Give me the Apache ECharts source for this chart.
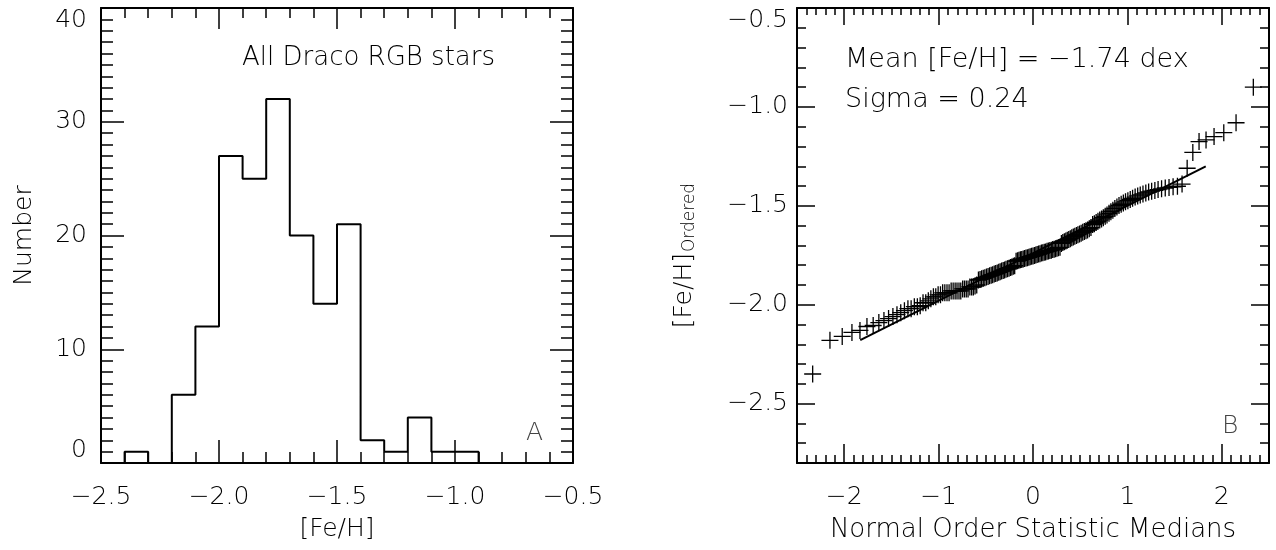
<!DOCTYPE html>
<html><head><meta charset="utf-8">
<script src="https://cdn.jsdelivr.net/npm/echarts@6/dist/echarts.min.js"></script>
<style>html,body{margin:0;padding:0;background:#fff}#c{width:1276px;height:550px}</style>
</head><body><div id="c"></div>
<script>
// ---------- Panel A: histogram ----------
const binLeft = [-2.4,-2.3,-2.2,-2.1,-2.0,-1.9,-1.8,-1.7,-1.6,-1.5,-1.4,-1.3,-1.2,-1.1,-1.0];
const binCounts = [1,0,6,12,27,25,32,20,14,21,2,1,4,1,1];
const binWidth = 0.1;
const histXTicks = [-2.5,-2.0,-1.5,-1.0,-0.5];
const histYTicks = [0,10,20,30,40];

// ---------- Panel B: normal probability plot ----------
const qqX = [
-2.334,-2.151,-2.021,-1.918,-1.833,-1.759,-1.693,-1.633,-1.579,-1.530,
-1.484,-1.441,-1.401,-1.362,-1.325,-1.291,-1.257,-1.225,-1.195,-1.165,
-1.136,-1.109,-1.082,-1.055,-1.030,-1.005,-0.980,-0.957,-0.934,-0.911,
-0.889,-0.867,-0.846,-0.825,-0.805,-0.784,-0.765,-0.745,-0.726,-0.707,
-0.688,-0.669,-0.650,-0.632,-0.614,-0.596,-0.578,-0.561,-0.544,-0.527,
-0.510,-0.493,-0.476,-0.460,-0.443,-0.427,-0.411,-0.395,-0.379,-0.363,
-0.348,-0.332,-0.316,-0.301,-0.286,-0.270,-0.254,-0.239,-0.224,-0.209,
-0.194,-0.179,-0.164,-0.149,-0.134,-0.119,-0.104,-0.089,-0.074,-0.059,
-0.044,-0.030,-0.015,0,
0.015,0.030,0.044,0.059,0.074,0.089,0.104,0.119,0.134,0.149,
0.164,0.179,0.194,0.209,0.224,0.239,0.254,0.270,0.286,0.301,
0.316,0.332,0.348,0.363,0.379,0.395,0.411,0.427,0.443,0.460,
0.476,0.493,0.510,0.527,0.544,0.561,0.578,0.596,0.614,0.632,
0.650,0.669,0.688,0.707,0.726,0.745,0.765,0.784,0.805,0.825,
0.846,0.867,0.889,0.911,0.934,0.957,0.980,1.005,1.030,1.055,
1.082,1.109,1.136,1.165,1.195,1.225,1.257,1.291,1.325,1.362,
1.401,1.441,1.484,1.530,1.579,1.633,1.693,1.759,1.833,1.918,
2.021,2.151,2.334];
const qqY = [
-2.35,-2.18,-2.16,-2.14,-2.13,-2.11,-2.105,-2.09,-2.08,-2.07,
-2.06,-2.05,-2.04,-2.03,-2.02,-2.02,-2.01,-2.01,-2.005,-1.99,
-1.99,-1.98,-1.97,-1.96,-1.96,-1.95,-1.95,-1.94,-1.94,-1.94,
-1.94,-1.93,-1.93,-1.93,-1.93,-1.93,-1.93,-1.92,-1.92,-1.92,
-1.92,-1.91,-1.91,-1.91,-1.905,-1.90,
-1.875,-1.872,-1.869,-1.866,-1.863,-1.860,-1.857,-1.854,-1.851,-1.848,
-1.845,-1.842,-1.839,-1.836,-1.833,-1.830,-1.827,-1.824,-1.821,-1.818,
-1.815,-1.812,-1.809,-1.806,-1.803,
-1.780,-1.778,-1.775,-1.773,-1.771,-1.769,-1.766,-1.764,-1.762,-1.760,
-1.757,-1.755,-1.753,-1.751,-1.748,-1.746,-1.744,-1.742,-1.739,-1.737,
-1.735,-1.733,-1.730,-1.728,-1.726,-1.724,-1.721,-1.719,-1.717,-1.715,
-1.712,-1.710,
-1.690,-1.686,-1.682,-1.678,-1.674,-1.670,-1.666,-1.662,-1.658,-1.654,
-1.650,-1.646,-1.642,-1.638,-1.634,-1.630,-1.626,-1.622,-1.616,-1.610,
-1.595,-1.590,-1.584,-1.578,-1.572,-1.566,-1.560,-1.553,-1.546,-1.538,
-1.530,-1.522,-1.514,-1.506,
-1.498,-1.492,-1.486,-1.480,-1.474,-1.468,-1.462,-1.456,-1.450,-1.445,
-1.440,-1.435,-1.430,-1.426,-1.422,-1.418,-1.414,-1.410,-1.407,-1.404,
-1.401,
-1.39,-1.31,-1.23,-1.175,-1.167,-1.15,-1.13,-1.08,-0.90];
const fitX = [-1.83, 1.83];
const fitY = [-2.179, -1.301];
const qqXTicks = [-2,-1,0,1,2];
const qqYTicks = [-2.5,-2.0,-1.5,-1.0,-0.5];

// ---------- build ----------
const FONT = 'DejaVu Sans';
const FW = 200;
const histPts = [[binLeft[0], 0]];
binLeft.forEach((x, i) => {
  histPts.push([x, binCounts[i]]);
  histPts.push([x + binWidth, binCounts[i]]);
});
histPts.push([binLeft[binLeft.length - 1] + binWidth, 0]);
const qqPts = qqX.map((x, i) => [x, qqY[i]]);
const fitPts = fitX.map((x, i) => [x, fitY[i]]);

const minus = s => s.replace('-', '\u2212');
const lab = (fmt, extra) => Object.assign({
  show: true, color: '#000', fontFamily: FONT, fontWeight: FW, fontSize: 25, formatter: fmt
}, extra || {});

function ax(o) {
  const a = {
    type: 'value', gridIndex: o.g, position: o.pos, min: o.min, max: o.max,
    splitLine: { show: false },
    axisLine: { show: !!o.line, onZero: false, lineStyle: { color: '#000', width: 2 } },
    axisTick: { show: true, inside: true, length: o.len, lineStyle: { color: '#000', width: 1.5 } },
    axisLabel: { show: false }
  };
  if (o.interval) a.interval = o.interval;
  if (o.custom) { a.axisTick.customValues = o.custom; }
  if (o.label) { a.axisLabel = o.label; a.axisLabel.customValues = o.custom; }
  if (o.name) Object.assign(a, o.name);
  return a;
}

const nameStyle = { color: '#000', fontFamily: FONT, fontWeight: FW, fontSize: 25 };

const xAxis = [
  ax({ g: 0, pos: 'bottom', min: -2.5, max: -0.5, interval: 0.1, len: 11, line: true }),
  ax({ g: 0, pos: 'bottom', min: -2.5, max: -0.5, custom: histXTicks, len: 23,
       label: lab(v => minus(v.toFixed(1)), { margin: 22 }),
       name: { name: '[Fe/H]', nameLocation: 'middle', nameGap: 54, nameTextStyle: nameStyle } }),
  ax({ g: 0, pos: 'top', min: -2.5, max: -0.5, interval: 0.1, len: 10, line: true }),
  ax({ g: 0, pos: 'top', min: -2.5, max: -0.5, custom: histXTicks, len: 21 }),
  ax({ g: 1, pos: 'bottom', min: -2.5, max: 2.5, interval: 0.1, len: 8, line: true }),
  ax({ g: 1, pos: 'bottom', min: -2.5, max: 2.5, custom: qqXTicks, len: 19,
       label: lab(v => minus(v.toFixed(0)), { margin: 22 }),
       name: { name: 'Normal Order Statistic Medians', nameLocation: 'middle', nameGap: 54,
               nameTextStyle: Object.assign({}, nameStyle, { fontSize: 26 }) } }),
  ax({ g: 1, pos: 'top', min: -2.5, max: 2.5, interval: 0.1, len: 7, line: true }),
  ax({ g: 1, pos: 'top', min: -2.5, max: 2.5, custom: qqXTicks, len: 17 })
];

const yAxis = [
  ax({ g: 0, pos: 'left', min: 0, max: 40, interval: 1, len: 12, line: true }),
  ax({ g: 0, pos: 'left', min: 0, max: 40, custom: histYTicks, len: 23,
       label: lab(v => String(v), { margin: 14, verticalAlignMinLabel: 'bottom', verticalAlignMaxLabel: 'top' }),
       name: { name: 'Number', nameLocation: 'middle', nameRotate: 90, nameGap: 64, nameTextStyle: nameStyle } }),
  ax({ g: 0, pos: 'right', min: 0, max: 40, interval: 1, len: 12, line: true }),
  ax({ g: 0, pos: 'right', min: 0, max: 40, custom: histYTicks, len: 23 }),
  ax({ g: 1, pos: 'left', min: -2.8, max: -0.5, interval: 0.1, len: 9, line: true }),
  ax({ g: 1, pos: 'left', min: -2.8, max: -0.5, custom: qqYTicks, len: 18,
       label: lab(v => minus(v.toFixed(1)), { margin: 9, verticalAlignMaxLabel: 'top' }),
       name: { name: '{a|[Fe/H]}{b|Ordered}', nameLocation: 'middle', nameRotate: 90, nameGap: 99,
               nameTextStyle: { color: '#000', fontFamily: FONT, fontWeight: FW, fontSize: 25,
                 padding: [0, 40, 0, 0],
                 rich: {
                   a: { fontFamily: FONT, fontWeight: FW, fontSize: 25, color: '#000', lineHeight: 26, verticalAlign: 'top' },
                   b: { fontFamily: FONT, fontWeight: FW, fontSize: 17, color: '#000', lineHeight: 17, padding: [13, 0, 0, 1], verticalAlign: 'bottom' }
                 } } } }),
  ax({ g: 1, pos: 'right', min: -2.8, max: -0.5, interval: 0.1, len: 9, line: true }),
  ax({ g: 1, pos: 'right', min: -2.8, max: -0.5, custom: qqYTicks, len: 18 })
];

const txt = (x, y, s, size, fill) => ({
  type: 'text', x: x, y: y, silent: true,
  style: { text: s, fontFamily: FONT, fontWeight: FW, fontSize: size, fill: fill || '#000', align: 'left', verticalAlign: 'middle' }
});

const option = {
  animation: false,
  backgroundColor: '#fff',
  grid: [
    { left: 101, top: 8, width: 472, height: 455 },
    { left: 797, top: 8, width: 472, height: 455 }
  ],
  xAxis: xAxis,
  yAxis: yAxis,
  series: [
    { type: 'line', xAxisIndex: 0, yAxisIndex: 0, data: histPts, symbol: 'none',
      lineStyle: { color: '#000', width: 2 }, clip: false },
    { type: 'scatter', xAxisIndex: 4, yAxisIndex: 4, data: qqPts,
      symbol: 'path://M0,10L20,10M10,0L10,20', symbolSize: 17,
      itemStyle: { color: 'transparent', borderColor: '#000', borderWidth: 1.3, opacity: 1 } },
    { type: 'line', xAxisIndex: 4, yAxisIndex: 4, data: fitPts, symbol: 'none',
      lineStyle: { color: '#000', width: 2 } }
  ],
  graphic: [
    txt(242, 58, 'All Draco RGB stars', 26),
    txt(526, 433, 'A', 25, '#444'),
    txt(1222, 426, 'B', 25, '#444'),
    txt(845, 60, 'Mean [Fe/H] = \u22121.74 dex', 27),
    txt(845, 100, 'Sigma = 0.24', 27)
  ]
};

const chart = echarts.init(document.getElementById('c'), null, { renderer: 'canvas' });
chart.setOption(option);
</script>
</body></html>
